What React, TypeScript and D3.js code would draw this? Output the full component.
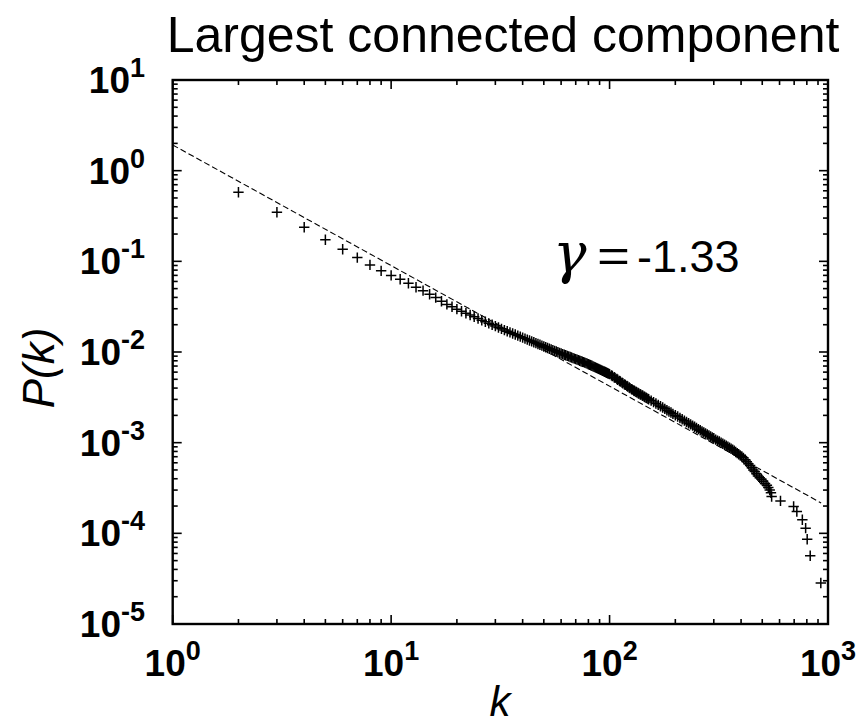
import React from 'react';
import * as d3 from 'd3';

// Cumulative degree distribution of the largest connected component
const degreeK = [
  2, 3, 4, 5, 6, 7, 8, 9, 10, 11, 12, 13, 14, 15, 16, 17, 18, 19, 20,
  21, 22, 23, 24, 25, 26, 27, 28, 29, 30, 31, 32, 33, 34, 35, 36, 37, 38, 39, 40,
  41, 42, 43, 44, 45, 46, 47, 48, 49, 50, 52, 54, 56, 58, 60, 62, 64, 66, 68, 70,
  72, 74, 76, 78, 80, 82, 84, 86, 88, 90, 92, 94, 96, 98, 100,
  103, 106, 109, 112, 115, 118, 121, 124, 127, 130, 133, 136, 139, 142, 145, 148, 151,
  155, 159, 163, 167, 171, 175, 179, 183, 187, 191, 195, 200, 205, 210, 215, 220,
  225, 230, 235, 240, 245, 250, 255, 260, 265, 270, 275, 280, 285, 290, 295, 300,
  306, 312, 318, 324, 330, 336, 342, 348, 354, 360, 366, 372, 378, 384, 390, 396,
  403, 410, 418, 425, 432, 440, 448, 455, 462, 470, 478, 487, 496, 505, 515, 525,
  533, 541, 548, 552, 606, 696, 720, 763, 790, 803, 829, 927,
];
const degreeP = [
  0.578, 0.348, 0.238, 0.173, 0.136, 0.110, 0.0913, 0.0785, 0.0700, 0.0635, 0.0574, 0.0518, 0.0475, 0.0434, 0.0398, 0.0363, 0.0335, 0.0315, 0.0297,
  0.0282, 0.0268, 0.0256, 0.0245, 0.0234, 0.0224, 0.0216, 0.0207, 0.0200, 0.0193, 0.0186, 0.0180, 0.01745, 0.01694, 0.01646, 0.0160, 0.01557, 0.01516, 0.01477, 0.0144,
  0.01405, 0.01371, 0.0134, 0.0131, 0.0128, 0.01252, 0.01226, 0.0120, 0.01176, 0.01152, 0.01108, 0.01067, 0.01029, 0.00993, 0.00963, 0.00934, 0.00907, 0.00881, 0.00857, 0.00834,
  0.00813, 0.00792, 0.00773, 0.00754, 0.00734, 0.00714, 0.00695, 0.00677, 0.00659, 0.00643, 0.00627, 0.00612, 0.00598, 0.00584, 0.00570,
  0.00543, 0.00518, 0.00495, 0.00473, 0.00453, 0.00434, 0.00417, 0.00400, 0.00385, 0.00372, 0.00360, 0.00349, 0.00339, 0.00329, 0.00319, 0.00310, 0.00301,
  0.00291, 0.00280, 0.00270, 0.00261, 0.00252, 0.00244, 0.00236, 0.00228, 0.00221, 0.00215, 0.00208, 0.00201, 0.00194, 0.00187, 0.00181, 0.00175,
  0.00169, 0.00164, 0.00159, 0.00154, 0.00150, 0.00145, 0.00141, 0.00137, 0.00133, 0.00130, 0.00126, 0.00123, 0.00120, 0.00117, 0.00114, 0.00112,
  0.00108, 0.00105, 0.00103, 0.000998, 0.000972, 0.000947, 0.000923, 0.000901, 0.000879, 0.000858, 0.000838, 0.000814, 0.000790, 0.000767, 0.000745, 0.000725,
  0.000703, 0.000680, 0.000650, 0.000615, 0.000585, 0.000560, 0.000530, 0.000500, 0.000480, 0.000455, 0.000430, 0.000410, 0.000395, 0.000375, 0.000355, 0.000340,
  0.000320, 0.000300, 0.000280, 0.000255, 0.000228, 0.000198, 0.000174, 0.000141, 0.000114, 0.0000860, 0.0000565, 0.0000283,
];

// Further degrees in the dense middle stretch of the distribution
const bandK = [
  51, 53, 55, 57, 59, 61, 63, 65, 67, 69, 71, 73, 75, 77, 79, 81, 83, 85, 87, 89, 91, 93, 95, 97, 99,
  102, 105, 108, 111, 114, 117, 120, 123, 126, 129, 132, 135, 138, 141, 144, 147, 150,
];
const bandP = [
  0.0113, 0.01087, 0.01048, 0.01011, 0.00978, 0.00948, 0.00920, 0.00894, 0.00869, 0.00845, 0.00823, 0.00802, 0.00782,
  0.00763, 0.00744, 0.00724, 0.00704, 0.00686, 0.00668, 0.00651, 0.00635, 0.00619, 0.00605, 0.00591, 0.00577,
  0.00552, 0.00526, 0.00503, 0.00480, 0.00460, 0.00440, 0.00423, 0.00406, 0.00390, 0.00376, 0.00364, 0.00353,
  0.00342, 0.00332, 0.00322, 0.00313, 0.00304,
];

// Power-law fit P(k) = A * k^gamma
const fitGamma = -1.33;
const fitAmplitude = 1.92;
const fitKRange = [1, 930];

const xExponents = [0, 1, 2, 3];
const yExponents = [1, 0, -1, -2, -3, -4, -5];

const titleText = 'Largest connected component';
const gammaValueText = '-1.33';

const W = 863;
const H = 726;
const M = { left: 172.7, right: 828, top: 80, bottom: 624 };

const SANS = "'Liberation Sans', Arial, Helvetica, sans-serif";

export default function App() {
  const x = d3.scaleLog().domain([1, 1000]).range([M.left, M.right]);
  const y = d3.scaleLog().domain([1e-5, 10]).range([M.bottom, M.top]);

  const minorX: number[] = [];
  for (let e = 0; e < 3; e++) for (let m = 2; m <= 9; m++) minorX.push(m * Math.pow(10, e));
  const minorY: number[] = [];
  for (let e = -5; e < 1; e++) for (let m = 2; m <= 9; m++) minorY.push(m * Math.pow(10, e));

  const fitLine = d3
    .line<number>()
    .x((k) => x(k))
    .y((k) => y(fitAmplitude * Math.pow(k, fitGamma)));

  const points = [
    ...degreeK.map((k, i) => [k, degreeP[i]]),
    ...bandK.map((k, i) => [k, bandP[i]]),
  ];

  const majorLen = 9;
  const minorLen = 5;
  const tickW = 1.6;
  const arm = 5.2;

  return (
    <svg
      width={W}
      height={H}
      style={{ position: 'absolute', left: 0, top: 0, background: '#fff' }}
      fontFamily={SANS}
    >
      <rect x={0} y={0} width={W} height={H} fill="#fff" />

      {/* title */}
      <text x={503} y={52} fontSize={50} textAnchor="middle" fill="#000">
        {titleText}
      </text>

      {/* fitted power law */}
      <path
        d={fitLine(fitKRange) || ''}
        fill="none"
        stroke="#000"
        strokeWidth={1.1}
        strokeDasharray="6,3"
      />

      {/* data markers */}
      <g stroke="#000" strokeWidth={1.5}>
        {points.map(([k, p], i) => {
          const cx = x(k);
          const cy = y(p);
          return (
            <path
              key={i}
              d={`M${cx - arm},${cy}H${cx + arm}M${cx},${cy - arm}V${cy + arm}`}
            />
          );
        })}
      </g>

      {/* ticks */}
      <g stroke="#000" strokeWidth={tickW}>
        {xExponents.map((e) => {
          const px = x(Math.pow(10, e));
          return (
            <g key={`xM${e}`}>
              <line x1={px} x2={px} y1={M.bottom} y2={M.bottom - majorLen} />
              <line x1={px} x2={px} y1={M.top} y2={M.top + majorLen} />
            </g>
          );
        })}
        {minorX.map((v) => {
          const px = x(v);
          return (
            <g key={`xm${v}`}>
              <line x1={px} x2={px} y1={M.bottom} y2={M.bottom - minorLen} />
              <line x1={px} x2={px} y1={M.top} y2={M.top + minorLen} />
            </g>
          );
        })}
        {yExponents.map((e) => {
          const py = y(Math.pow(10, e));
          return (
            <g key={`yM${e}`}>
              <line x1={M.left} x2={M.left + majorLen} y1={py} y2={py} />
              <line x1={M.right} x2={M.right - majorLen} y1={py} y2={py} />
            </g>
          );
        })}
        {minorY.map((v) => {
          const py = y(v);
          return (
            <g key={`ym${v}`}>
              <line x1={M.left} x2={M.left + minorLen} y1={py} y2={py} />
              <line x1={M.right} x2={M.right - minorLen} y1={py} y2={py} />
            </g>
          );
        })}
      </g>

      {/* frame */}
      <rect
        x={M.left}
        y={M.top}
        width={M.right - M.left}
        height={M.bottom - M.top}
        fill="none"
        stroke="#000"
        strokeWidth={2.4}
      />

      {/* y tick labels */}
      {yExponents.map((e) => (
        <text
          key={`yl${e}`}
          x={145}
          y={y(Math.pow(10, e)) + 13}
          fontSize={37}
          fontWeight="bold"
          textAnchor="end"
          fill="#000"
        >
          10
          <tspan fontSize={27} dy={-16}>
            {e}
          </tspan>
        </text>
      ))}

      {/* x tick labels */}
      {xExponents.map((e) => (
        <text
          key={`xl${e}`}
          x={x(Math.pow(10, e))}
          y={676}
          fontSize={37}
          fontWeight="bold"
          textAnchor="middle"
          fill="#000"
        >
          10
          <tspan fontSize={27} dy={-16}>
            {e}
          </tspan>
        </text>
      ))}

      {/* axis titles */}
      <text x={500} y={716} fontSize={42} fontStyle="italic" textAnchor="middle" fill="#000">
        k
      </text>
      <text
        transform={`translate(54,368) rotate(-90)`}
        fontSize={44}
        fontStyle="italic"
        textAnchor="middle"
        fill="#000"
      >
        P(k)
      </text>

      {/* exponent annotation */}
      <text
        x={553}
        y={272}
        fontSize={56}
        fontStyle="italic"
        fontFamily="'DejaVu Serif', 'Liberation Serif', serif"
        fill="#000"
      >
        γ
      </text>
      <text x={597} y={272} fontSize={46} fill="#000" textLength={33} lengthAdjust="spacingAndGlyphs">
        =
      </text>
      <text x={637} y={272} fontSize={45} fill="#000">
        {gammaValueText}
      </text>
    </svg>
  );
}
